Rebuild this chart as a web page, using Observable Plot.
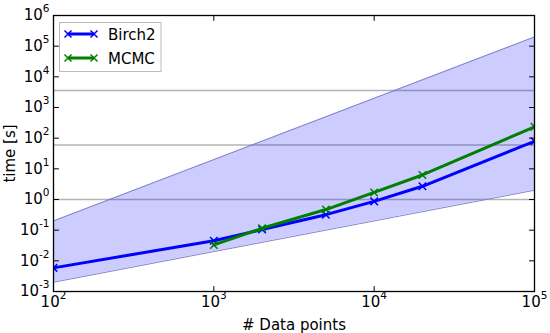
<!DOCTYPE html>
<html><head><meta charset="utf-8">
<script src="https://cdn.jsdelivr.net/npm/d3@7"></script>
<script src="https://cdn.jsdelivr.net/npm/@observablehq/plot@0.6"></script>
<style>body{margin:0;background:#fff}</style>
</head><body><div id="chart"></div>
<script>
// Data
const birchN = [100, 1000, 2000, 5000, 10000, 20000, 100000];
const birchTime = [0.0059, 0.045, 0.105, 0.32, 0.87, 2.7, 79];
const mcmcN = [1000, 2000, 5000, 10000, 20000, 100000];
const mcmcTime = [0.033, 0.115, 0.47, 1.7, 6.3, 235];
const bandN = [100, 100000];
const bandLower = [0.002, 2];
const bandUpper = [0.2, 200000];
const refLines = [1, 60, 3600];
const xTicks = [1e2, 1e3, 1e4, 1e5];
const yTicks = [1e-3, 1e-2, 1e-1, 1e0, 1e1, 1e2, 1e3, 1e4, 1e5, 1e6];
const seriesNames = ["Birch2", "MCMC"];
const seriesColors = ["#0000ff", "#008000"];

const birch = birchN.map((n, i) => ({n, t: birchTime[i]}));
const mcmc = mcmcN.map((n, i) => ({n, t: mcmcTime[i]}));
const band = bandN.map((n, i) => ({n, lo: bandLower[i], hi: bandUpper[i]}));

const fmt = d => "10^" + Math.round(Math.log10(d));
const tickShape = {draw(ctx, l) { ctx.moveTo(0, 0); ctx.lineTo(0, -l); }};

const chart = Plot.plot({
  width: 550, height: 333,
  marginLeft: 53, marginRight: 16, marginTop: 15, marginBottom: 42,
  style: {fontFamily: "DejaVu Sans", fontSize: "15px", color: "black", background: "white"},
  x: {type: "log", domain: [1e2, 1e5]},
  y: {type: "log", domain: [1e-3, 1e6]},
  marks: [
    Plot.ruleY(refLines, {stroke: "#b4b4b4", strokeWidth: 1.5}),
    Plot.areaY(band, {x: "n", y1: "lo", y2: "hi", fill: "blue", fillOpacity: 0.2}),
    Plot.line(band, {x: "n", y: "lo", stroke: "#7878c0", strokeWidth: 0.9}),
    Plot.line(band, {x: "n", y: "hi", stroke: "#7878c0", strokeWidth: 0.9}),
    Plot.line(birch, {x: "n", y: "t", stroke: seriesColors[0], strokeWidth: 3, clip: true}),
    Plot.dot(birch, {x: "n", y: "t", symbol: "times", r: 3.5, stroke: seriesColors[0], strokeWidth: 1.5, clip: true}),
    Plot.line(mcmc, {x: "n", y: "t", stroke: seriesColors[1], strokeWidth: 3, clip: true}),
    Plot.dot(mcmc, {x: "n", y: "t", symbol: "times", r: 3.5, stroke: seriesColors[1], strokeWidth: 1.5, clip: true}),
    // inward ticks on all four sides
    Plot.vector(yTicks, {x: 1e2, y: d => d, length: 5, rotate: 90, anchor: "start", shape: tickShape, stroke: "black", strokeWidth: 1}),
    Plot.vector(yTicks, {x: 1e5, y: d => d, length: 5, rotate: -90, anchor: "start", shape: tickShape, stroke: "black", strokeWidth: 1}),
    Plot.vector(xTicks, {x: d => d, y: 1e-3, length: 5, rotate: 0, anchor: "start", shape: tickShape, stroke: "black", strokeWidth: 1}),
    Plot.vector(xTicks, {x: d => d, y: 1e6, length: 5, rotate: 180, anchor: "start", shape: tickShape, stroke: "black", strokeWidth: 1}),
    Plot.axisY({ticks: yTicks, tickSize: 0, tickPadding: 4, tickFormat: fmt, label: "time [s]", labelAnchor: "center", labelArrow: "none", labelOffset: 49}),
    Plot.axisX({ticks: xTicks, tickSize: 0, tickPadding: 5, tickFormat: fmt, label: "# Data points", labelAnchor: "center", labelArrow: "none", labelOffset: 38}),
    Plot.frame({stroke: "black", strokeWidth: 1.3})
  ]
});
document.getElementById("chart").appendChild(chart);

const svg = d3.select(chart);
// superscripts in tick labels
svg.selectAll("g[aria-label$='tick label'] text").each(function() {
  const s = this.textContent;
  if (!s.startsWith("10^")) return;
  const e = s.slice(3);
  const t = d3.select(this);
  t.text("10");
  t.append("tspan").attr("dy", "-8").attr("font-size", "10.5px").text(e);
});

// legend
const lg = svg.append("g").attr("font-family", "DejaVu Sans").attr("font-size", "15px").attr("text-anchor", "start");
lg.append("rect").attr("x", 59.5).attr("y", 22.5).attr("width", 101.5).attr("height", 49)
  .attr("fill", "white").attr("stroke", "#bbbbbb").attr("stroke-width", 1);
seriesNames.forEach((name, i) => {
  const y = 34 + i * 24;
  const c = seriesColors[i];
  lg.append("line").attr("x1", 68).attr("x2", 94).attr("y1", y).attr("y2", y).attr("stroke", c).attr("stroke-width", 3);
  [68, 94].forEach(x => {
    lg.append("path").attr("d", `M${x-3.5},${y-3.5}L${x+3.5},${y+3.5}M${x-3.5},${y+3.5}L${x+3.5},${y-3.5}`)
      .attr("stroke", c).attr("stroke-width", 1.5).attr("fill", "none");
  });
  lg.append("text").attr("x", 108).attr("y", y + 5.5).attr("fill", "black").attr("text-anchor", "start").text(name);
});
</script>
</body></html>
